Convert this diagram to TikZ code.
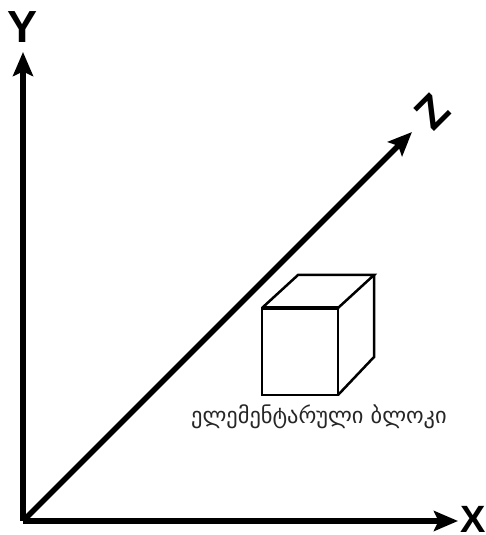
\documentclass[tikz,border=0pt]{standalone}
\usepackage{fontspec}
\usepackage{xcolor}
\usetikzlibrary{arrows.meta,calc,positioning}
\setmainfont{Liberation Sans}
\newfontfamily\geofont{DejaVu Sans}
\tikzset{
  axisline/.style={line width=5.6pt,-{Stealth[length=24pt,width=20pt,inset=4.5pt]}},
  axislabel/.style={font=\fontsize{45}{45}\selectfont\bfseries,inner sep=0pt},
  cubeedge/.style={line width=2.5pt,line join=miter}
}
\begin{document}
\begin{tikzpicture}[x=1pt,y=1pt]
  \useasboundingbox (0,0) rectangle (486,535);
  % axes
  \coordinate (O) at (23,14);
  \coordinate (Ytip) at (23,483);
  \coordinate (Xtip) at (458,14);
  \coordinate (Ztip) at (412,403);
  \draw[axisline] (O) -- (Ytip);
  \draw[axisline] (O) -- (Xtip);
  \draw[axisline] (O) -- (Ztip);
  \node[axislabel] (Ylabel) at (23,508) {Y};
  \node[axislabel,font=\fontsize{38}{38}\selectfont\bfseries,anchor=west] (Xlabel) at (460,16) {X};
  \node[axislabel,rotate=45] (Zlabel) at (432,423) {Z};
  % cube
  \coordinate (A) at (262,140);
  \coordinate (B) at (338,140);
  \coordinate (C) at (338,227);
  \coordinate (D) at (262,227);
  \coordinate (E) at (298,260);
  \coordinate (F) at (374,260);
  \coordinate (G) at (374,178);
  \draw[cubeedge] (A) -- (B) -- (C) -- (D) -- cycle;
  \draw[cubeedge] (D) -- (E) -- (F) -- (C);
  \draw[cubeedge] (F) -- (G) -- (B);
  \draw[line width=4.5pt] (D) -- (C);
  \node[font=\geofont\fontsize{22.4}{22.4}\selectfont,text=black!85,inner sep=0pt] (blocklabel) at (319,118) {ელემენტარული ბლოკი};
\end{tikzpicture}
\end{document}
